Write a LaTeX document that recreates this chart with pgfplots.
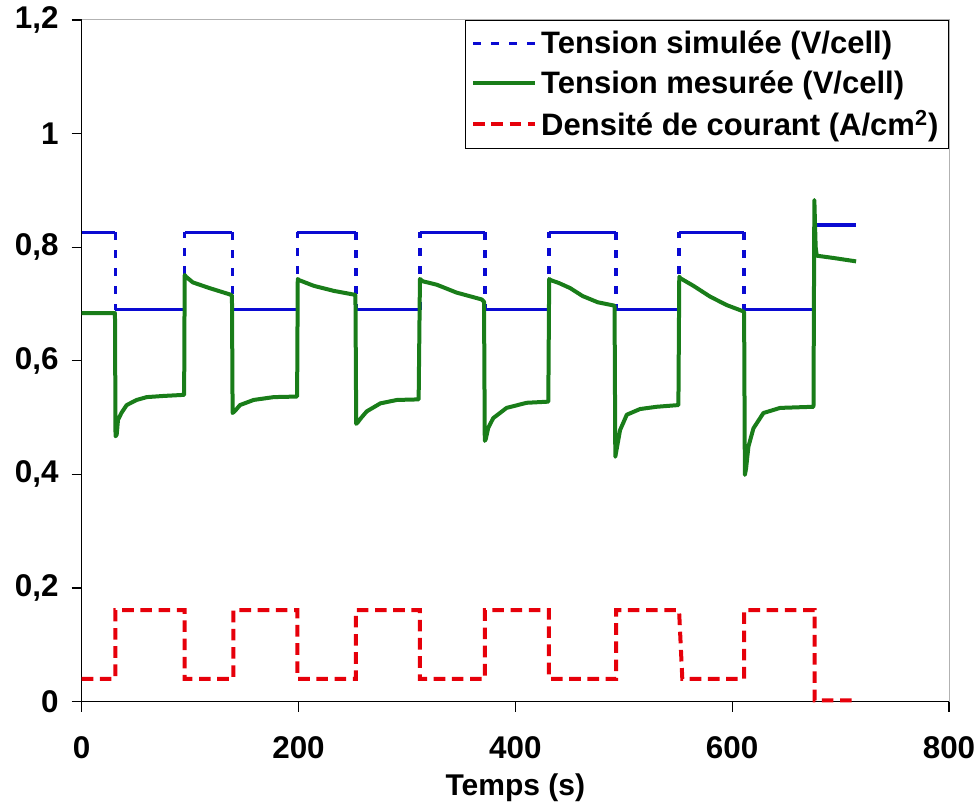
\documentclass[border=0pt]{standalone}
\usepackage{fontspec}
\setmainfont{Liberation Sans}
\usepackage{pgfplots}
\pgfplotsset{compat=1.18}
\definecolor{blueS}{RGB}{10,10,210}
\definecolor{greenM}{RGB}{25,125,25}
\definecolor{redD}{RGB}{230,0,10}
\pgfplotsset{
  mylegimg/.style={legend image code/.code={\draw[##1] (0pt,0pt) -- (31pt,0pt);}},
}
\begin{document}
\begin{tikzpicture}
\begin{axis}[
  name=ax,
  scale only axis,
  width=433.7pt, height=340.8pt,
  xmin=0, xmax=800, ymin=0, ymax=1.2,
  clip=false,
  axis lines*=left,
  axis line style={black, line width=0.7pt},
  xtick={0,200,400,600,800},
  ytick={0,0.2,0.4,0.6,0.8,1,1.2},
  minor tick num=0,
  tick align=outside,
  major tick length=5pt,
  tick style={black, line width=0.6pt},
  /pgf/number format/.cd, use comma, 1000 sep={}, assume math mode=true,
  /pgfplots/.cd,
  tick label style={font=\fontsize{15.7}{18}\selectfont\bfseries},
  xticklabel style={yshift=-9pt},
  yticklabel style={xshift=-3pt},
  xlabel={Temps (s)},
  xlabel style={font=\fontsize{15}{18}\selectfont\bfseries, at={(axis description cs:0.5,0)}, anchor=center, yshift=-43pt},
  unbounded coords=jump,
  legend style={at={(1,1)}, anchor=north east, draw=black, line width=0.6pt, fill=white,
    font=\fontsize{15.5}{18.5}\selectfont\bfseries, row sep=3pt, inner xsep=3pt, inner ysep=3pt},
  legend cell align=left,
  mylegimg,
]
\draw[gray!60, line width=0.5pt] (rel axis cs:0,1) -- (rel axis cs:1,1) -- (rel axis cs:1,0);

\addlegendimage{blueS, line width=1.7pt, dash pattern=on 4pt off 5pt}
\addlegendentry{Tension simulée (V/cell)}

% simulated voltage: horizontal parts (solid)
\addplot[blueS, line width=1.7pt, forget plot] coordinates {
(0,0.826)(31,0.826)(31,nan)
(31,0.690)(95,0.690)(95,nan)
(95,0.826)(139,0.826)(139,nan)
(139,0.690)(199,0.690)(199,nan)
(199,0.826)(253,0.826)(253,nan)
(253,0.690)(312,0.690)(312,nan)
(312,0.826)(372,0.826)(372,nan)
(372,0.690)(431,0.690)(431,nan)
(431,0.826)(493,0.826)(493,nan)
(493,0.690)(551,0.690)(551,nan)
(551,0.826)(611,0.826)(611,nan)
(611,0.690)(676,0.690)(676,nan)
(676,0.839)(714,0.839)
};
% simulated voltage: transitions (dotted)
\addplot[blueS, line width=1.7pt, dash pattern=on 4pt off 5pt, forget plot] coordinates {
(31,0.826)(31,0.690)(31,nan)
(95,0.690)(95,0.826)(95,nan)
(139,0.826)(139,0.690)(139,nan)
(199,0.690)(199,0.826)(199,nan)
(253,0.826)(253,0.690)(253,nan)
(312,0.690)(312,0.826)(312,nan)
(372,0.826)(372,0.690)(372,nan)
(431,0.690)(431,0.826)(431,nan)
(493,0.826)(493,0.690)(493,nan)
(551,0.690)(551,0.826)(551,nan)
(611,0.826)(611,0.690)(611,nan)
(676,0.690)(676,0.839)
};

% measured voltage
\addplot[greenM, line width=2pt, line join=round] coordinates {
(0,0.684)(30.7,0.684)(31.2,0.467)(32.3,0.470)(33.5,0.496)(36.6,0.508)(41.5,0.522)(50.7,0.531)(60,0.536)(75,0.538)(94.5,0.540)
(95,0.751)(96.2,0.748)(102.5,0.738)(117.8,0.728)(136.3,0.717)(138.6,0.715)
(139.2,0.508)(142,0.513)(146,0.522)(158.6,0.531)(177,0.536)(198.7,0.537)
(199.3,0.744)(200.5,0.742)(214,0.732)(232.6,0.723)(252.5,0.716)
(253.2,0.489)(254.4,0.491)(258,0.500)(263,0.511)(275.5,0.525)(290.8,0.531)(310.8,0.532)
(312,0.744)(314.5,0.740)(327.4,0.734)(345.8,0.720)(368.9,0.708)(371.1,0.704)
(371.8,0.459)(372.7,0.462)(375,0.482)(379.6,0.499)(391.9,0.517)(410.4,0.526)(430.4,0.528)
(431.2,0.744)(432.6,0.742)(440,0.737)(450.5,0.728)(462,0.714)(476,0.703)(491.5,0.697)
(492.2,0.431)(493.5,0.445)(496.6,0.478)(502.8,0.505)(515,0.515)(530.4,0.519)(550.4,0.522)
(551.2,0.748)(552.5,0.745)(564.2,0.732)(579.6,0.713)(595,0.698)(608.9,0.688)(611,0.686)
(611.7,0.399)(612.8,0.410)(615,0.449)(619.6,0.481)(628.8,0.508)(644.2,0.517)(675,0.519)
(675.8,0.883)(677,0.800)(678,0.785)(693.4,0.781)(714.3,0.775)
};
\addlegendentry{Tension mesurée (V/cell)}

% current density
\addplot[redD, line width=2pt, dash pattern=on 5.8pt off 3.3pt] coordinates {
(0,0.040)(31,0.040)(31,0.161)(95,0.161)(95,0.040)(140,0.040)(140,0.161)(199,0.161)(199,0.040)
(253,0.040)(253,0.161)(312,0.161)(312,0.040)(372,0.040)(372,0.161)(431,0.161)(431,0.040)
(493,0.040)(493,0.161)(551,0.161)(554,0.040)(611,0.040)(611,0.161)(676,0.161)(676,0.002)(715,0.002)
};
\addlegendentry{Densité de courant (A/cm\textsuperscript{2})}
\end{axis}
\pgfresetboundingbox
\path[use as bounding box] ([xshift=-40.85pt,yshift=-53.65pt]ax.south west) rectangle ([xshift=15.5pt,yshift=10pt]ax.north east);
\end{tikzpicture}
\end{document}
